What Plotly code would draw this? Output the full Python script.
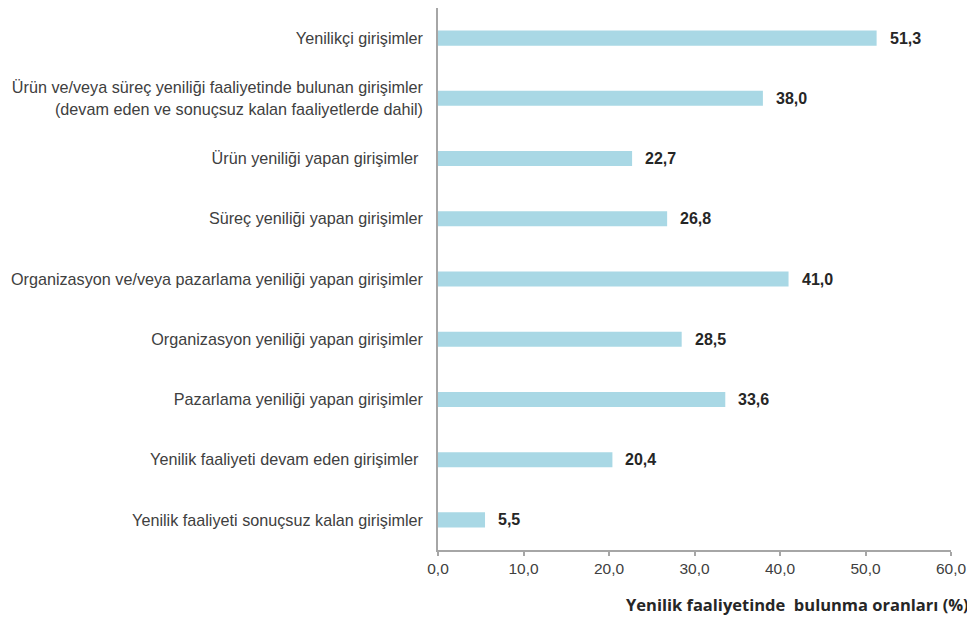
import plotly.graph_objects as go

categories = [
    "Yenilikçi girişimler",
    "Ürün ve/veya süreç yeniliği faaliyetinde bulunan girişimler<br>(devam eden ve sonuçsuz kalan faaliyetlerde dahil)",
    "Ürün yeniliği yapan girişimler ",
    "Süreç yeniliği yapan girişimler",
    "Organizasyon ve/veya pazarlama yeniliği yapan girişimler",
    "Organizasyon yeniliği yapan girişimler",
    "Pazarlama yeniliği yapan girişimler",
    "Yenilik faaliyeti devam eden girişimler ",
    "Yenilik faaliyeti sonuçsuz kalan girişimler",
]
values = [51.3, 38.0, 22.7, 26.8, 41.0, 28.5, 33.6, 20.4, 5.5]
tick_values = [0, 10, 20, 30, 40, 50, 60]
tick_labels = ["0,0", "10,0", "20,0", "30,0", "40,0", "50,0", "60,0"]
axis_title = "Yenilik faaliyetinde  bulunma oranları (%)"

FONT = "Liberation Sans, Arial, sans-serif"

fig = go.Figure()
fig.add_trace(go.Bar(
    x=values,
    y=categories,
    orientation="h",
    marker=dict(color="#a9d8e5", line=dict(width=0)),
    width=0.25,
    hoverinfo="x+y",
))

for v, c in zip(values, categories):
    fig.add_annotation(
        x=v, y=c, text=f"<b>{v:.1f}</b>".replace(".", ","),
        xanchor="left", yanchor="middle", xshift=11, showarrow=False,
        font=dict(family=FONT, size=16, color="#262626"),
    )

fig.add_annotation(
    x=1, y=0, xref="paper", yref="paper", xanchor="right", yanchor="middle",
    xshift=20, yshift=-54, showarrow=False, text=f"<b>{axis_title}</b>",
    font=dict(family="Open Sans, Liberation Sans, sans-serif", size=16.5, color="#262626"),
)

fig.update_layout(
    width=967, height=611,
    margin=dict(l=430, r=24, t=0, b=69, autoexpand=False),
    paper_bgcolor="white", plot_bgcolor="white",
    showlegend=False,
    font=dict(family=FONT, size=16, color="#404040"),
)
fig.update_xaxes(
    range=[0, 60], tickvals=tick_values, ticktext=tick_labels,
    showgrid=False, zeroline=False, showline=True, linecolor="#a6a6a6", linewidth=1.5,
    ticks="outside", ticklen=4, tickcolor="#a6a6a6", tickwidth=1.5,
    tickfont=dict(family=FONT, size=15.5, color="#404040"),
)
fig.update_yaxes(
    categoryorder="array", categoryarray=categories, autorange="reversed",
    showgrid=False, zeroline=False, showline=True, linecolor="#a6a6a6", linewidth=1.5,
    ticks="", ticklabelstandoff=10,
    tickfont=dict(family=FONT, size=16.2, color="#404040"),
)

fig.write_html("out.html")
